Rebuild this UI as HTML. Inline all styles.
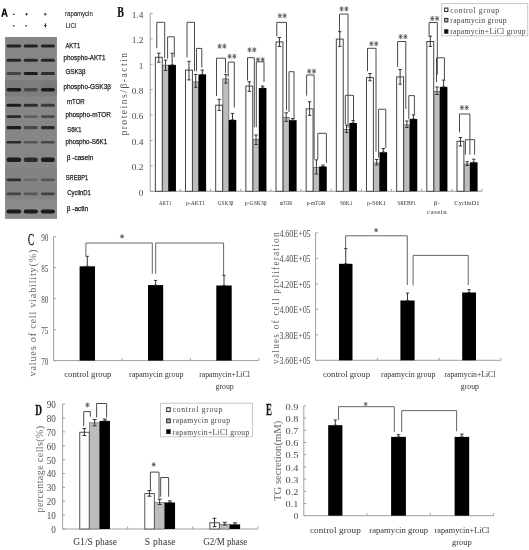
<!DOCTYPE html>
<html><head><meta charset="utf-8"><style>
html,body{margin:0;padding:0;background:#fff;width:529px;height:550px;overflow:hidden}
svg{display:block;filter:grayscale(1) blur(0.3px)}
</style></head><body>
<svg width="529" height="550" viewBox="0 0 529 550" shape-rendering="auto">
<rect width="529" height="550" fill="#fff"/>
<defs><filter id="bl" x="-20%" y="-50%" width="140%" height="200%"><feGaussianBlur stdDeviation="0.9"/></filter><filter id="bl2" x="-20%" y="-50%" width="140%" height="200%"><feGaussianBlur stdDeviation="0.5"/></filter></defs>
<rect x="5.10" y="37.00" width="51.80" height="181.60" fill="#868686"/>
<rect x="5.10" y="80.00" width="51.80" height="16.50" fill="#7d7d7d"/>
<ellipse cx="13.5" cy="86" rx="7.5" ry="4" fill="#7b7b7b" filter="url(#bl)"/>
<ellipse cx="48" cy="85.5" rx="7.5" ry="4.5" fill="#777777" filter="url(#bl)"/>
<rect x="5.10" y="187.00" width="51.80" height="12.00" fill="#7e7e7e"/>
<rect x="5.10" y="167.50" width="51.80" height="32.00" fill="#838383"/>
<rect x="5.10" y="199.50" width="51.80" height="19.10" fill="#8c8c8c"/>
<rect x="6.50" y="44.60" width="14.70" height="3.00" rx="1.50" fill="#222222" filter="url(#bl2)"/>
<rect x="23.70" y="44.60" width="14.20" height="3.00" rx="1.50" fill="#222222" filter="url(#bl2)"/>
<rect x="40.90" y="44.60" width="14.00" height="3.00" rx="1.50" fill="#222222" filter="url(#bl2)"/>
<rect x="6.50" y="58.80" width="14.70" height="3.00" rx="1.50" fill="#262626" filter="url(#bl2)"/>
<rect x="23.70" y="58.80" width="14.20" height="3.00" rx="1.50" fill="#2a2a2a" filter="url(#bl2)"/>
<rect x="40.90" y="58.80" width="14.00" height="3.00" rx="1.50" fill="#262626" filter="url(#bl2)"/>
<rect x="6.50" y="71.90" width="14.70" height="3.00" rx="1.50" fill="#454545" filter="url(#bl2)"/>
<rect x="23.70" y="71.90" width="14.20" height="3.00" rx="1.50" fill="#1a1a1a" filter="url(#bl2)"/>
<rect x="40.90" y="71.90" width="14.00" height="3.00" rx="1.50" fill="#2f2f2f" filter="url(#bl2)"/>
<rect x="6.50" y="88.00" width="14.70" height="3.60" rx="1.80" fill="#1a1a1a" filter="url(#bl2)"/>
<rect x="23.70" y="88.00" width="14.20" height="3.60" rx="1.80" fill="#4a4a4a" filter="url(#bl2)"/>
<rect x="40.90" y="88.00" width="14.00" height="3.60" rx="1.80" fill="#1a1a1a" filter="url(#bl2)"/>
<rect x="6.50" y="103.80" width="14.70" height="3.00" rx="1.50" fill="#1a1a1a" filter="url(#bl2)"/>
<rect x="23.70" y="103.80" width="14.20" height="3.00" rx="1.50" fill="#2f2f2f" filter="url(#bl2)"/>
<rect x="40.90" y="103.80" width="14.00" height="3.00" rx="1.50" fill="#3a3a3a" filter="url(#bl2)"/>
<rect x="6.50" y="115.20" width="14.70" height="2.80" rx="1.40" fill="#2a2a2a" filter="url(#bl2)"/>
<rect x="23.70" y="115.20" width="14.20" height="2.80" rx="1.40" fill="#606060" filter="url(#bl2)"/>
<rect x="40.90" y="115.20" width="14.00" height="2.80" rx="1.40" fill="#4a4a4a" filter="url(#bl2)"/>
<rect x="6.50" y="126.10" width="14.70" height="3.20" rx="1.60" fill="#1a1a1a" filter="url(#bl2)"/>
<rect x="23.70" y="126.10" width="14.20" height="3.20" rx="1.60" fill="#4a4a4a" filter="url(#bl2)"/>
<rect x="40.90" y="126.10" width="14.00" height="3.20" rx="1.60" fill="#2a2a2a" filter="url(#bl2)"/>
<rect x="6.50" y="140.90" width="14.70" height="2.60" rx="1.30" fill="#2a2a2a" filter="url(#bl2)"/>
<rect x="23.70" y="140.90" width="14.20" height="2.60" rx="1.30" fill="#555555" filter="url(#bl2)"/>
<rect x="40.90" y="140.90" width="14.00" height="2.60" rx="1.30" fill="#4a4a4a" filter="url(#bl2)"/>
<rect x="6.50" y="157.50" width="14.70" height="4.60" rx="2.30" fill="#1a1a1a" filter="url(#bl2)"/>
<rect x="23.70" y="157.50" width="14.20" height="4.60" rx="2.30" fill="#2a2a2a" filter="url(#bl2)"/>
<rect x="40.90" y="157.50" width="14.00" height="4.60" rx="2.30" fill="#1a1a1a" filter="url(#bl2)"/>
<rect x="6.50" y="178.40" width="14.70" height="2.80" rx="1.40" fill="#2f2f2f" filter="url(#bl2)"/>
<rect x="23.70" y="178.40" width="14.20" height="2.80" rx="1.40" fill="#6b6b6b" filter="url(#bl2)"/>
<rect x="40.90" y="178.40" width="14.00" height="2.80" rx="1.40" fill="#555555" filter="url(#bl2)"/>
<rect x="6.50" y="192.40" width="14.70" height="2.80" rx="1.40" fill="#454545" filter="url(#bl2)"/>
<rect x="23.70" y="192.40" width="14.20" height="2.80" rx="1.40" fill="#555555" filter="url(#bl2)"/>
<rect x="40.90" y="192.40" width="14.00" height="2.80" rx="1.40" fill="#434343" filter="url(#bl2)"/>
<rect x="6.50" y="209.60" width="14.70" height="4.00" rx="2.00" fill="#1a1a1a" filter="url(#bl2)"/>
<rect x="23.70" y="209.60" width="14.20" height="4.00" rx="2.00" fill="#1a1a1a" filter="url(#bl2)"/>
<rect x="40.90" y="209.60" width="14.00" height="4.00" rx="2.00" fill="#1a1a1a" filter="url(#bl2)"/>
<path d="M1.2,16.7L3.6,8.4L5.4,8.4L7.8,16.7L6.1,16.7L5.6,14.8L3.4,14.8L2.9,16.7ZM3.8,13.3L5.2,13.3L4.5,10.5Z" fill="#111" fill-rule="evenodd"/>
<rect x="12.90" y="13.80" width="1.80" height="1.20" fill="#444"/>
<rect x="25.10" y="13.75" width="2.80" height="0.90" fill="#333"/>
<rect x="26.05" y="12.80" width="0.90" height="2.80" fill="#333"/>
<rect x="43.80" y="13.75" width="2.80" height="0.90" fill="#333"/>
<rect x="44.75" y="12.80" width="0.90" height="2.80" fill="#333"/>
<rect x="12.90" y="25.20" width="1.80" height="1.20" fill="#444"/>
<rect x="25.20" y="25.20" width="1.80" height="1.20" fill="#444"/>
<rect x="44.00" y="25.05" width="2.80" height="0.90" fill="#333"/>
<rect x="44.95" y="24.10" width="0.90" height="2.80" fill="#333"/>
<rect x="44.95" y="23.20" width="0.90" height="4.60" fill="#333"/>
<text x="65.10" y="16.00" font-family="'Liberation Sans', sans-serif" font-size="7.8" fill="#1a1a1a" text-anchor="start" font-weight="normal" textLength="27.70" lengthAdjust="spacingAndGlyphs" stroke="#1a1a1a" stroke-width="0.12">rapamycin</text>
<text x="65.80" y="27.60" font-family="'Liberation Sans', sans-serif" font-size="7.8" fill="#1a1a1a" text-anchor="start" font-weight="normal" textLength="10.30" lengthAdjust="spacingAndGlyphs" stroke="#1a1a1a" stroke-width="0.12">LiCl</text>
<text x="65.40" y="48.00" font-family="'Liberation Sans', sans-serif" font-size="7.8" fill="#1a1a1a" text-anchor="start" font-weight="normal" textLength="14.80" lengthAdjust="spacingAndGlyphs" stroke="#1a1a1a" stroke-width="0.25">AKT1</text>
<text x="63.60" y="60.40" font-family="'Liberation Sans', sans-serif" font-size="7.8" fill="#1a1a1a" text-anchor="start" font-weight="normal" textLength="41.80" lengthAdjust="spacingAndGlyphs" stroke="#1a1a1a" stroke-width="0.25">phospho-AKT1</text>
<text x="65.40" y="73.50" font-family="'Liberation Sans', sans-serif" font-size="7.8" fill="#1a1a1a" text-anchor="start" font-weight="normal" textLength="20.30" lengthAdjust="spacingAndGlyphs" stroke="#1a1a1a" stroke-width="0.25">GSK3β</text>
<text x="63.40" y="88.60" font-family="'Liberation Sans', sans-serif" font-size="7.8" fill="#1a1a1a" text-anchor="start" font-weight="normal" textLength="47.50" lengthAdjust="spacingAndGlyphs" stroke="#1a1a1a" stroke-width="0.25">phospho-GSK3β</text>
<text x="67.00" y="104.00" font-family="'Liberation Sans', sans-serif" font-size="7.8" fill="#1a1a1a" text-anchor="start" font-weight="normal" textLength="17.70" lengthAdjust="spacingAndGlyphs" stroke="#1a1a1a" stroke-width="0.25">mTOR</text>
<text x="65.40" y="116.60" font-family="'Liberation Sans', sans-serif" font-size="7.8" fill="#1a1a1a" text-anchor="start" font-weight="normal" textLength="45.50" lengthAdjust="spacingAndGlyphs" stroke="#1a1a1a" stroke-width="0.25">phospho-mTOR</text>
<text x="67.30" y="132.20" font-family="'Liberation Sans', sans-serif" font-size="7.8" fill="#1a1a1a" text-anchor="start" font-weight="normal" textLength="14.10" lengthAdjust="spacingAndGlyphs" stroke="#1a1a1a" stroke-width="0.25">S6K1</text>
<text x="65.40" y="144.20" font-family="'Liberation Sans', sans-serif" font-size="7.8" fill="#1a1a1a" text-anchor="start" font-weight="normal" textLength="41.80" lengthAdjust="spacingAndGlyphs" stroke="#1a1a1a" stroke-width="0.25">phospho-S6K1</text>
<text x="66.70" y="159.80" font-family="'Liberation Sans', sans-serif" font-size="7.8" fill="#1a1a1a" text-anchor="start" font-weight="normal" textLength="26.60" lengthAdjust="spacingAndGlyphs" stroke="#1a1a1a" stroke-width="0.25">β -casein</text>
<text x="65.80" y="180.00" font-family="'Liberation Sans', sans-serif" font-size="7.8" fill="#1a1a1a" text-anchor="start" font-weight="normal" textLength="22.40" lengthAdjust="spacingAndGlyphs" stroke="#1a1a1a" stroke-width="0.25">SREBP1</text>
<text x="67.30" y="195.00" font-family="'Liberation Sans', sans-serif" font-size="7.8" fill="#1a1a1a" text-anchor="start" font-weight="normal" textLength="23.60" lengthAdjust="spacingAndGlyphs" stroke="#1a1a1a" stroke-width="0.25">CyclinD1</text>
<text x="66.70" y="210.80" font-family="'Liberation Sans', sans-serif" font-size="7.8" fill="#1a1a1a" text-anchor="start" font-weight="normal" textLength="21.50" lengthAdjust="spacingAndGlyphs" stroke="#1a1a1a" stroke-width="0.25">β -actin</text>
<line x1="150.20" y1="13.40" x2="150.20" y2="191.30" stroke="#a0a0a0" stroke-width="1"/>
<line x1="150.20" y1="191.30" x2="482.00" y2="191.30" stroke="#a0a0a0" stroke-width="1"/>
<line x1="150.20" y1="191.30" x2="152.70" y2="191.30" stroke="#a0a0a0" stroke-width="1"/>
<text x="143.40" y="195.60" font-family="'Liberation Serif', serif" font-size="9.2" fill="#484848" text-anchor="end" font-weight="normal">0</text>
<line x1="150.20" y1="165.89" x2="152.70" y2="165.89" stroke="#a0a0a0" stroke-width="1"/>
<text x="143.40" y="170.19" font-family="'Liberation Serif', serif" font-size="9.2" fill="#484848" text-anchor="end" font-weight="normal" textLength="11.70" lengthAdjust="spacingAndGlyphs">0.2</text>
<line x1="150.20" y1="140.48" x2="152.70" y2="140.48" stroke="#a0a0a0" stroke-width="1"/>
<text x="143.40" y="144.78" font-family="'Liberation Serif', serif" font-size="9.2" fill="#484848" text-anchor="end" font-weight="normal" textLength="11.70" lengthAdjust="spacingAndGlyphs">0.4</text>
<line x1="150.20" y1="115.07" x2="152.70" y2="115.07" stroke="#a0a0a0" stroke-width="1"/>
<text x="143.40" y="119.37" font-family="'Liberation Serif', serif" font-size="9.2" fill="#484848" text-anchor="end" font-weight="normal" textLength="11.70" lengthAdjust="spacingAndGlyphs">0.6</text>
<line x1="150.20" y1="89.66" x2="152.70" y2="89.66" stroke="#a0a0a0" stroke-width="1"/>
<text x="143.40" y="93.96" font-family="'Liberation Serif', serif" font-size="9.2" fill="#484848" text-anchor="end" font-weight="normal" textLength="11.70" lengthAdjust="spacingAndGlyphs">0.8</text>
<line x1="150.20" y1="64.25" x2="152.70" y2="64.25" stroke="#a0a0a0" stroke-width="1"/>
<text x="143.40" y="68.55" font-family="'Liberation Serif', serif" font-size="9.2" fill="#484848" text-anchor="end" font-weight="normal">1</text>
<line x1="150.20" y1="38.84" x2="152.70" y2="38.84" stroke="#a0a0a0" stroke-width="1"/>
<text x="143.40" y="43.14" font-family="'Liberation Serif', serif" font-size="9.2" fill="#484848" text-anchor="end" font-weight="normal" textLength="11.70" lengthAdjust="spacingAndGlyphs">1.2</text>
<line x1="150.20" y1="13.43" x2="152.70" y2="13.43" stroke="#a0a0a0" stroke-width="1"/>
<text x="143.40" y="17.73" font-family="'Liberation Serif', serif" font-size="9.2" fill="#484848" text-anchor="end" font-weight="normal" textLength="11.70" lengthAdjust="spacingAndGlyphs">1.4</text>
<line x1="180.36" y1="191.30" x2="180.36" y2="188.80" stroke="#a0a0a0" stroke-width="1"/>
<line x1="210.53" y1="191.30" x2="210.53" y2="188.80" stroke="#a0a0a0" stroke-width="1"/>
<line x1="240.69" y1="191.30" x2="240.69" y2="188.80" stroke="#a0a0a0" stroke-width="1"/>
<line x1="270.85" y1="191.30" x2="270.85" y2="188.80" stroke="#a0a0a0" stroke-width="1"/>
<line x1="301.02" y1="191.30" x2="301.02" y2="188.80" stroke="#a0a0a0" stroke-width="1"/>
<line x1="331.18" y1="191.30" x2="331.18" y2="188.80" stroke="#a0a0a0" stroke-width="1"/>
<line x1="361.35" y1="191.30" x2="361.35" y2="188.80" stroke="#a0a0a0" stroke-width="1"/>
<line x1="391.51" y1="191.30" x2="391.51" y2="188.80" stroke="#a0a0a0" stroke-width="1"/>
<line x1="421.67" y1="191.30" x2="421.67" y2="188.80" stroke="#a0a0a0" stroke-width="1"/>
<line x1="451.84" y1="191.30" x2="451.84" y2="188.80" stroke="#a0a0a0" stroke-width="1"/>
<line x1="482.00" y1="191.30" x2="482.00" y2="188.80" stroke="#a0a0a0" stroke-width="1"/>
<text x="117.30" y="16.70" font-family="'Liberation Serif', serif" font-size="15" fill="#111" text-anchor="start" font-weight="bold" textLength="6.70" lengthAdjust="spacingAndGlyphs" stroke="#111" stroke-width="0.2">B</text>
<text x="127.10" y="94.25" font-family="'Liberation Serif', serif" font-size="9.6" fill="#555" text-anchor="middle" font-weight="normal" textLength="82.70" lengthAdjust="spacing" transform="rotate(-90 127.10 94.25)">proteins/β-actin</text>
<rect x="162.45" y="65.20" width="6.00" height="126.10" fill="#bdbdbd" stroke="#666" stroke-width="0.8"/>
<rect x="155.35" y="57.30" width="6.90" height="134.00" fill="#fff" stroke="#444" stroke-width="1"/>
<rect x="168.35" y="64.90" width="7.60" height="126.40" fill="#000"/>
<line x1="158.80" y1="53.20" x2="158.80" y2="62.20" stroke="#333" stroke-width="1"/>
<line x1="157.10" y1="53.20" x2="160.50" y2="53.20" stroke="#333" stroke-width="1"/>
<line x1="157.10" y1="62.20" x2="160.50" y2="62.20" stroke="#333" stroke-width="1"/>
<line x1="165.55" y1="60.10" x2="165.55" y2="70.40" stroke="#333" stroke-width="1"/>
<line x1="163.85" y1="60.10" x2="167.25" y2="60.10" stroke="#333" stroke-width="1"/>
<line x1="163.85" y1="70.40" x2="167.25" y2="70.40" stroke="#333" stroke-width="1"/>
<line x1="172.15" y1="53.20" x2="172.15" y2="64.90" stroke="#333" stroke-width="1"/>
<line x1="170.45" y1="53.20" x2="173.85" y2="53.20" stroke="#333" stroke-width="1"/>
<line x1="170.45" y1="64.90" x2="173.85" y2="64.90" stroke="#333" stroke-width="1"/>
<rect x="192.61" y="81.90" width="6.00" height="109.40" fill="#bdbdbd" stroke="#666" stroke-width="0.8"/>
<rect x="185.51" y="70.10" width="6.90" height="121.20" fill="#fff" stroke="#444" stroke-width="1"/>
<rect x="198.51" y="74.40" width="7.60" height="116.90" fill="#000"/>
<line x1="188.96" y1="61.30" x2="188.96" y2="79.90" stroke="#333" stroke-width="1"/>
<line x1="187.26" y1="61.30" x2="190.66" y2="61.30" stroke="#333" stroke-width="1"/>
<line x1="187.26" y1="79.90" x2="190.66" y2="79.90" stroke="#333" stroke-width="1"/>
<line x1="195.71" y1="74.40" x2="195.71" y2="87.30" stroke="#333" stroke-width="1"/>
<line x1="194.01" y1="74.40" x2="197.41" y2="74.40" stroke="#333" stroke-width="1"/>
<line x1="194.01" y1="87.30" x2="197.41" y2="87.30" stroke="#333" stroke-width="1"/>
<line x1="202.31" y1="70.10" x2="202.31" y2="74.40" stroke="#333" stroke-width="1"/>
<line x1="200.61" y1="70.10" x2="204.01" y2="70.10" stroke="#333" stroke-width="1"/>
<line x1="200.61" y1="74.40" x2="204.01" y2="74.40" stroke="#333" stroke-width="1"/>
<rect x="222.78" y="78.90" width="6.00" height="112.40" fill="#bdbdbd" stroke="#666" stroke-width="0.8"/>
<rect x="215.68" y="105.20" width="6.90" height="86.10" fill="#fff" stroke="#444" stroke-width="1"/>
<rect x="228.68" y="119.90" width="7.60" height="71.40" fill="#000"/>
<line x1="219.13" y1="99.30" x2="219.13" y2="110.50" stroke="#333" stroke-width="1"/>
<line x1="217.43" y1="99.30" x2="220.83" y2="99.30" stroke="#333" stroke-width="1"/>
<line x1="217.43" y1="110.50" x2="220.83" y2="110.50" stroke="#333" stroke-width="1"/>
<line x1="225.88" y1="74.60" x2="225.88" y2="83.00" stroke="#333" stroke-width="1"/>
<line x1="224.18" y1="74.60" x2="227.58" y2="74.60" stroke="#333" stroke-width="1"/>
<line x1="224.18" y1="83.00" x2="227.58" y2="83.00" stroke="#333" stroke-width="1"/>
<line x1="232.48" y1="113.40" x2="232.48" y2="119.90" stroke="#333" stroke-width="1"/>
<line x1="230.78" y1="113.40" x2="234.18" y2="113.40" stroke="#333" stroke-width="1"/>
<line x1="230.78" y1="119.90" x2="234.18" y2="119.90" stroke="#333" stroke-width="1"/>
<rect x="252.94" y="139.50" width="6.00" height="51.80" fill="#bdbdbd" stroke="#666" stroke-width="0.8"/>
<rect x="245.84" y="86.10" width="6.90" height="105.20" fill="#fff" stroke="#444" stroke-width="1"/>
<rect x="258.84" y="88.00" width="7.60" height="103.30" fill="#000"/>
<line x1="249.29" y1="81.80" x2="249.29" y2="91.30" stroke="#333" stroke-width="1"/>
<line x1="247.59" y1="81.80" x2="250.99" y2="81.80" stroke="#333" stroke-width="1"/>
<line x1="247.59" y1="91.30" x2="250.99" y2="91.30" stroke="#333" stroke-width="1"/>
<line x1="256.04" y1="135.00" x2="256.04" y2="144.50" stroke="#333" stroke-width="1"/>
<line x1="254.34" y1="135.00" x2="257.74" y2="135.00" stroke="#333" stroke-width="1"/>
<line x1="254.34" y1="144.50" x2="257.74" y2="144.50" stroke="#333" stroke-width="1"/>
<line x1="262.64" y1="86.10" x2="262.64" y2="88.00" stroke="#333" stroke-width="1"/>
<line x1="260.94" y1="86.10" x2="264.34" y2="86.10" stroke="#333" stroke-width="1"/>
<line x1="260.94" y1="88.00" x2="264.34" y2="88.00" stroke="#333" stroke-width="1"/>
<rect x="283.10" y="117.50" width="6.00" height="73.80" fill="#bdbdbd" stroke="#666" stroke-width="0.8"/>
<rect x="276.00" y="42.00" width="6.90" height="149.30" fill="#fff" stroke="#444" stroke-width="1"/>
<rect x="289.00" y="120.20" width="7.60" height="71.10" fill="#000"/>
<line x1="279.45" y1="37.50" x2="279.45" y2="46.50" stroke="#333" stroke-width="1"/>
<line x1="277.75" y1="37.50" x2="281.15" y2="37.50" stroke="#333" stroke-width="1"/>
<line x1="277.75" y1="46.50" x2="281.15" y2="46.50" stroke="#333" stroke-width="1"/>
<line x1="286.20" y1="112.80" x2="286.20" y2="121.40" stroke="#333" stroke-width="1"/>
<line x1="284.50" y1="112.80" x2="287.90" y2="112.80" stroke="#333" stroke-width="1"/>
<line x1="284.50" y1="121.40" x2="287.90" y2="121.40" stroke="#333" stroke-width="1"/>
<line x1="292.80" y1="118.50" x2="292.80" y2="120.20" stroke="#333" stroke-width="1"/>
<line x1="291.10" y1="118.50" x2="294.50" y2="118.50" stroke="#333" stroke-width="1"/>
<line x1="291.10" y1="120.20" x2="294.50" y2="120.20" stroke="#333" stroke-width="1"/>
<rect x="313.27" y="167.50" width="6.00" height="23.80" fill="#bdbdbd" stroke="#666" stroke-width="0.8"/>
<rect x="306.17" y="108.90" width="6.90" height="82.40" fill="#fff" stroke="#444" stroke-width="1"/>
<rect x="319.17" y="166.50" width="7.60" height="24.80" fill="#000"/>
<line x1="309.62" y1="101.80" x2="309.62" y2="115.30" stroke="#333" stroke-width="1"/>
<line x1="307.92" y1="101.80" x2="311.32" y2="101.80" stroke="#333" stroke-width="1"/>
<line x1="307.92" y1="115.30" x2="311.32" y2="115.30" stroke="#333" stroke-width="1"/>
<line x1="316.37" y1="159.80" x2="316.37" y2="174.00" stroke="#333" stroke-width="1"/>
<line x1="314.67" y1="159.80" x2="318.07" y2="159.80" stroke="#333" stroke-width="1"/>
<line x1="314.67" y1="174.00" x2="318.07" y2="174.00" stroke="#333" stroke-width="1"/>
<line x1="322.97" y1="165.00" x2="322.97" y2="166.50" stroke="#333" stroke-width="1"/>
<line x1="321.27" y1="165.00" x2="324.67" y2="165.00" stroke="#333" stroke-width="1"/>
<line x1="321.27" y1="166.50" x2="324.67" y2="166.50" stroke="#333" stroke-width="1"/>
<rect x="343.43" y="129.40" width="6.00" height="61.90" fill="#bdbdbd" stroke="#666" stroke-width="0.8"/>
<rect x="336.33" y="39.10" width="6.90" height="152.20" fill="#fff" stroke="#444" stroke-width="1"/>
<rect x="349.33" y="123.00" width="7.60" height="68.30" fill="#000"/>
<line x1="339.78" y1="31.70" x2="339.78" y2="46.40" stroke="#333" stroke-width="1"/>
<line x1="338.08" y1="31.70" x2="341.48" y2="31.70" stroke="#333" stroke-width="1"/>
<line x1="338.08" y1="46.40" x2="341.48" y2="46.40" stroke="#333" stroke-width="1"/>
<line x1="346.53" y1="125.00" x2="346.53" y2="132.50" stroke="#333" stroke-width="1"/>
<line x1="344.83" y1="125.00" x2="348.23" y2="125.00" stroke="#333" stroke-width="1"/>
<line x1="344.83" y1="132.50" x2="348.23" y2="132.50" stroke="#333" stroke-width="1"/>
<line x1="353.13" y1="120.60" x2="353.13" y2="123.00" stroke="#333" stroke-width="1"/>
<line x1="351.43" y1="120.60" x2="354.83" y2="120.60" stroke="#333" stroke-width="1"/>
<line x1="351.43" y1="123.00" x2="354.83" y2="123.00" stroke="#333" stroke-width="1"/>
<rect x="373.60" y="162.90" width="6.00" height="28.40" fill="#bdbdbd" stroke="#666" stroke-width="0.8"/>
<rect x="366.50" y="77.60" width="6.90" height="113.70" fill="#fff" stroke="#444" stroke-width="1"/>
<rect x="379.50" y="152.20" width="7.60" height="39.10" fill="#000"/>
<line x1="369.95" y1="73.50" x2="369.95" y2="80.80" stroke="#333" stroke-width="1"/>
<line x1="368.25" y1="73.50" x2="371.65" y2="73.50" stroke="#333" stroke-width="1"/>
<line x1="368.25" y1="80.80" x2="371.65" y2="80.80" stroke="#333" stroke-width="1"/>
<line x1="376.70" y1="159.50" x2="376.70" y2="165.00" stroke="#333" stroke-width="1"/>
<line x1="375.00" y1="159.50" x2="378.40" y2="159.50" stroke="#333" stroke-width="1"/>
<line x1="375.00" y1="165.00" x2="378.40" y2="165.00" stroke="#333" stroke-width="1"/>
<line x1="383.30" y1="148.50" x2="383.30" y2="152.20" stroke="#333" stroke-width="1"/>
<line x1="381.60" y1="148.50" x2="385.00" y2="148.50" stroke="#333" stroke-width="1"/>
<line x1="381.60" y1="152.20" x2="385.00" y2="152.20" stroke="#333" stroke-width="1"/>
<rect x="403.76" y="124.90" width="6.00" height="66.40" fill="#bdbdbd" stroke="#666" stroke-width="0.8"/>
<rect x="396.66" y="76.90" width="6.90" height="114.40" fill="#fff" stroke="#444" stroke-width="1"/>
<rect x="409.66" y="119.00" width="7.60" height="72.30" fill="#000"/>
<line x1="400.11" y1="69.50" x2="400.11" y2="84.20" stroke="#333" stroke-width="1"/>
<line x1="398.41" y1="69.50" x2="401.81" y2="69.50" stroke="#333" stroke-width="1"/>
<line x1="398.41" y1="84.20" x2="401.81" y2="84.20" stroke="#333" stroke-width="1"/>
<line x1="406.86" y1="121.00" x2="406.86" y2="127.50" stroke="#333" stroke-width="1"/>
<line x1="405.16" y1="121.00" x2="408.56" y2="121.00" stroke="#333" stroke-width="1"/>
<line x1="405.16" y1="127.50" x2="408.56" y2="127.50" stroke="#333" stroke-width="1"/>
<line x1="413.46" y1="114.90" x2="413.46" y2="119.00" stroke="#333" stroke-width="1"/>
<line x1="411.76" y1="114.90" x2="415.16" y2="114.90" stroke="#333" stroke-width="1"/>
<line x1="411.76" y1="119.00" x2="415.16" y2="119.00" stroke="#333" stroke-width="1"/>
<rect x="433.92" y="91.40" width="6.00" height="99.90" fill="#bdbdbd" stroke="#666" stroke-width="0.8"/>
<rect x="426.82" y="41.50" width="6.90" height="149.80" fill="#fff" stroke="#444" stroke-width="1"/>
<rect x="439.82" y="86.90" width="7.60" height="104.40" fill="#000"/>
<line x1="430.27" y1="36.20" x2="430.27" y2="46.40" stroke="#333" stroke-width="1"/>
<line x1="428.57" y1="36.20" x2="431.97" y2="36.20" stroke="#333" stroke-width="1"/>
<line x1="428.57" y1="46.40" x2="431.97" y2="46.40" stroke="#333" stroke-width="1"/>
<line x1="437.02" y1="87.00" x2="437.02" y2="94.50" stroke="#333" stroke-width="1"/>
<line x1="435.32" y1="87.00" x2="438.72" y2="87.00" stroke="#333" stroke-width="1"/>
<line x1="435.32" y1="94.50" x2="438.72" y2="94.50" stroke="#333" stroke-width="1"/>
<line x1="443.62" y1="80.10" x2="443.62" y2="86.90" stroke="#333" stroke-width="1"/>
<line x1="441.92" y1="80.10" x2="445.32" y2="80.10" stroke="#333" stroke-width="1"/>
<line x1="441.92" y1="86.90" x2="445.32" y2="86.90" stroke="#333" stroke-width="1"/>
<rect x="464.09" y="164.00" width="6.00" height="27.30" fill="#bdbdbd" stroke="#666" stroke-width="0.8"/>
<rect x="456.99" y="141.30" width="6.90" height="50.00" fill="#fff" stroke="#444" stroke-width="1"/>
<rect x="469.99" y="162.30" width="7.60" height="29.00" fill="#000"/>
<line x1="460.44" y1="137.50" x2="460.44" y2="146.00" stroke="#333" stroke-width="1"/>
<line x1="458.74" y1="137.50" x2="462.14" y2="137.50" stroke="#333" stroke-width="1"/>
<line x1="458.74" y1="146.00" x2="462.14" y2="146.00" stroke="#333" stroke-width="1"/>
<line x1="467.19" y1="161.70" x2="467.19" y2="165.50" stroke="#333" stroke-width="1"/>
<line x1="465.49" y1="161.70" x2="468.89" y2="161.70" stroke="#333" stroke-width="1"/>
<line x1="465.49" y1="165.50" x2="468.89" y2="165.50" stroke="#333" stroke-width="1"/>
<line x1="473.79" y1="159.20" x2="473.79" y2="162.30" stroke="#333" stroke-width="1"/>
<line x1="472.09" y1="159.20" x2="475.49" y2="159.20" stroke="#333" stroke-width="1"/>
<line x1="472.09" y1="162.30" x2="475.49" y2="162.30" stroke="#333" stroke-width="1"/>
<polyline points="156.80,48.10 156.80,22.30 164.70,22.30 164.70,57.90" fill="none" stroke="#4a4a4a" stroke-width="1"/>
<polyline points="167.60,58.50 167.60,36.80 174.30,36.80 174.30,57.30" fill="none" stroke="#4a4a4a" stroke-width="1"/>
<polyline points="187.00,57.50 187.00,22.30 194.50,22.30 194.50,71.30" fill="none" stroke="#4a4a4a" stroke-width="1"/>
<polyline points="196.50,71.30 196.50,48.40 201.80,48.40 201.80,67.60" fill="none" stroke="#4a4a4a" stroke-width="1"/>
<polyline points="216.50,95.90 216.50,58.20 225.50,58.20 225.50,73.20" fill="none" stroke="#4a4a4a" stroke-width="1"/>
<polyline points="228.20,76.90 228.20,62.10 234.30,62.10 234.30,107.60" fill="none" stroke="#4a4a4a" stroke-width="1"/>
<polyline points="247.50,80.50 247.50,57.70 254.30,57.70 254.30,127.30" fill="none" stroke="#4a4a4a" stroke-width="1"/>
<polyline points="256.30,127.30 256.30,61.80 264.00,61.80 264.00,82.00" fill="none" stroke="#4a4a4a" stroke-width="1"/>
<polyline points="276.80,36.50 276.80,22.40 286.50,22.40 286.50,110.40" fill="none" stroke="#4a4a4a" stroke-width="1"/>
<polyline points="289.00,112.00 289.00,71.70 294.00,71.70 294.00,119.00" fill="none" stroke="#4a4a4a" stroke-width="1"/>
<polyline points="306.60,95.60 306.60,75.00 314.10,75.00 314.10,159.10" fill="none" stroke="#4a4a4a" stroke-width="1"/>
<polyline points="317.80,159.00 317.80,133.30 326.40,133.30 326.40,162.80" fill="none" stroke="#4a4a4a" stroke-width="1"/>
<polyline points="339.50,31.30 339.50,14.10 348.00,14.10 348.00,127.60" fill="none" stroke="#4a4a4a" stroke-width="1"/>
<polyline points="345.30,124.00 345.30,95.30 353.50,95.30 353.50,120.30" fill="none" stroke="#4a4a4a" stroke-width="1"/>
<polyline points="367.50,71.20 367.50,48.30 376.00,48.30 376.00,151.60" fill="none" stroke="#4a4a4a" stroke-width="1"/>
<polyline points="378.60,157.50 378.60,109.20 385.80,109.20 385.80,147.90" fill="none" stroke="#4a4a4a" stroke-width="1"/>
<polyline points="397.60,67.00 397.60,41.50 405.80,41.50 405.80,109.00" fill="none" stroke="#4a4a4a" stroke-width="1"/>
<polyline points="408.80,119.20 408.80,95.60 414.40,95.60 414.40,114.70" fill="none" stroke="#4a4a4a" stroke-width="1"/>
<polyline points="429.10,36.20 429.10,22.50 437.30,22.50 437.30,74.60" fill="none" stroke="#4a4a4a" stroke-width="1"/>
<polyline points="436.50,82.00 436.50,57.80 444.40,57.80 444.40,80.10" fill="none" stroke="#4a4a4a" stroke-width="1"/>
<polyline points="459.50,132.40 459.50,114.00 469.90,114.00 469.90,154.70" fill="none" stroke="#4a4a4a" stroke-width="1"/>
<polyline points="465.40,154.70 465.40,139.70 474.60,139.70 474.60,154.70" fill="none" stroke="#4a4a4a" stroke-width="1"/>
<path d="M219.60,43.70V48.70M217.60,46.20H221.60M217.90,44.20L221.30,48.20M217.90,48.20L221.30,44.20" stroke="#555" stroke-width="0.8" fill="none"/>
<path d="M224.40,43.70V48.70M222.40,46.20H226.40M222.70,44.20L226.10,48.20M222.70,48.20L226.10,44.20" stroke="#555" stroke-width="0.8" fill="none"/>
<path d="M229.60,53.80V58.80M227.60,56.30H231.60M227.90,54.30L231.30,58.30M227.90,58.30L231.30,54.30" stroke="#555" stroke-width="0.8" fill="none"/>
<path d="M234.40,53.80V58.80M232.40,56.30H236.40M232.70,54.30L236.10,58.30M232.70,58.30L236.10,54.30" stroke="#555" stroke-width="0.8" fill="none"/>
<path d="M249.50,47.30V52.30M247.50,49.80H251.50M247.80,47.80L251.20,51.80M247.80,51.80L251.20,47.80" stroke="#555" stroke-width="0.8" fill="none"/>
<path d="M254.30,47.30V52.30M252.30,49.80H256.30M252.60,47.80L256.00,51.80M252.60,51.80L256.00,47.80" stroke="#555" stroke-width="0.8" fill="none"/>
<path d="M257.90,57.10V62.10M255.90,59.60H259.90M256.20,57.60L259.60,61.60M256.20,61.60L259.60,57.60" stroke="#555" stroke-width="0.8" fill="none"/>
<path d="M262.70,57.10V62.10M260.70,59.60H264.70M261.00,57.60L264.40,61.60M261.00,61.60L264.40,57.60" stroke="#555" stroke-width="0.8" fill="none"/>
<path d="M279.90,13.20V18.20M277.90,15.70H281.90M278.20,13.70L281.60,17.70M278.20,17.70L281.60,13.70" stroke="#555" stroke-width="0.8" fill="none"/>
<path d="M284.70,13.20V18.20M282.70,15.70H286.70M283.00,13.70L286.40,17.70M283.00,17.70L286.40,13.70" stroke="#555" stroke-width="0.8" fill="none"/>
<path d="M309.20,68.80V73.80M307.20,71.30H311.20M307.50,69.30L310.90,73.30M307.50,73.30L310.90,69.30" stroke="#555" stroke-width="0.8" fill="none"/>
<path d="M314.00,68.80V73.80M312.00,71.30H316.00M312.30,69.30L315.70,73.30M312.30,73.30L315.70,69.30" stroke="#555" stroke-width="0.8" fill="none"/>
<path d="M341.60,6.40V11.40M339.60,8.90H343.60M339.90,6.90L343.30,10.90M339.90,10.90L343.30,6.90" stroke="#555" stroke-width="0.8" fill="none"/>
<path d="M346.40,6.40V11.40M344.40,8.90H348.40M344.70,6.90L348.10,10.90M344.70,10.90L348.10,6.90" stroke="#555" stroke-width="0.8" fill="none"/>
<path d="M371.40,41.20V46.20M369.40,43.70H373.40M369.70,41.70L373.10,45.70M369.70,45.70L373.10,41.70" stroke="#555" stroke-width="0.8" fill="none"/>
<path d="M376.20,41.20V46.20M374.20,43.70H378.20M374.50,41.70L377.90,45.70M374.50,45.70L377.90,41.70" stroke="#555" stroke-width="0.8" fill="none"/>
<path d="M400.60,34.20V39.20M398.60,36.70H402.60M398.90,34.70L402.30,38.70M398.90,38.70L402.30,34.70" stroke="#555" stroke-width="0.8" fill="none"/>
<path d="M405.40,34.20V39.20M403.40,36.70H407.40M403.70,34.70L407.10,38.70M403.70,38.70L407.10,34.70" stroke="#555" stroke-width="0.8" fill="none"/>
<path d="M432.30,16.00V21.00M430.30,18.50H434.30M430.60,16.50L434.00,20.50M430.60,20.50L434.00,16.50" stroke="#555" stroke-width="0.8" fill="none"/>
<path d="M437.10,16.00V21.00M435.10,18.50H439.10M435.40,16.50L438.80,20.50M435.40,20.50L438.80,16.50" stroke="#555" stroke-width="0.8" fill="none"/>
<path d="M461.90,105.10V110.10M459.90,107.60H463.90M460.20,105.60L463.60,109.60M460.20,109.60L463.60,105.60" stroke="#555" stroke-width="0.8" fill="none"/>
<path d="M466.70,105.10V110.10M464.70,107.60H468.70M465.00,105.60L468.40,109.60M465.00,109.60L468.40,105.60" stroke="#555" stroke-width="0.8" fill="none"/>
<text x="165.28" y="205.30" font-family="'Liberation Serif', serif" font-size="6.9" fill="#333" text-anchor="middle" font-weight="normal" textLength="12.40" lengthAdjust="spacingAndGlyphs">AKT1</text>
<text x="195.45" y="205.30" font-family="'Liberation Serif', serif" font-size="6.9" fill="#333" text-anchor="middle" font-weight="normal" textLength="18.80" lengthAdjust="spacingAndGlyphs">p-AKT1</text>
<text x="225.61" y="205.30" font-family="'Liberation Serif', serif" font-size="6.9" fill="#333" text-anchor="middle" font-weight="normal" textLength="15.60" lengthAdjust="spacingAndGlyphs">GSK3β</text>
<text x="255.77" y="205.30" font-family="'Liberation Serif', serif" font-size="6.9" fill="#333" text-anchor="middle" font-weight="normal" textLength="22.00" lengthAdjust="spacingAndGlyphs">p-GSK3β</text>
<text x="285.94" y="205.30" font-family="'Liberation Serif', serif" font-size="6.9" fill="#333" text-anchor="middle" font-weight="normal" textLength="12.40" lengthAdjust="spacingAndGlyphs">mTOR</text>
<text x="316.10" y="205.30" font-family="'Liberation Serif', serif" font-size="6.9" fill="#333" text-anchor="middle" font-weight="normal" textLength="18.80" lengthAdjust="spacingAndGlyphs">p-mTOR</text>
<text x="346.26" y="205.30" font-family="'Liberation Serif', serif" font-size="6.9" fill="#333" text-anchor="middle" font-weight="normal" textLength="12.40" lengthAdjust="spacingAndGlyphs">S6K1</text>
<text x="376.43" y="205.30" font-family="'Liberation Serif', serif" font-size="6.9" fill="#333" text-anchor="middle" font-weight="normal" textLength="18.80" lengthAdjust="spacingAndGlyphs">p-S6K1</text>
<text x="406.59" y="205.30" font-family="'Liberation Serif', serif" font-size="6.9" fill="#333" text-anchor="middle" font-weight="normal" textLength="18.80" lengthAdjust="spacingAndGlyphs">SREBP1</text>
<text x="436.75" y="205.30" font-family="'Liberation Serif', serif" font-size="6.9" fill="#333" text-anchor="middle" font-weight="normal" textLength="6.00" lengthAdjust="spacing">β-</text>
<text x="466.92" y="205.30" font-family="'Liberation Serif', serif" font-size="6.9" fill="#333" text-anchor="middle" font-weight="normal" textLength="25.20" lengthAdjust="spacingAndGlyphs">CyclinD1</text>
<text x="436.75" y="213.80" font-family="'Liberation Serif', serif" font-size="6.9" fill="#333" text-anchor="middle" font-weight="normal" textLength="19.80" lengthAdjust="spacing">casein</text>
<rect x="441.70" y="3.60" width="86.00" height="32.30" fill="#fff" stroke="#c8c8c8" stroke-width="1"/>
<rect x="444.70" y="8.05" width="3.20" height="3.50" fill="#fff" stroke="#222" stroke-width="1.0"/>
<text x="450.30" y="12.50" font-family="'Liberation Serif', serif" font-size="7.6" fill="#444" text-anchor="start" font-weight="normal" textLength="48.81" lengthAdjust="spacing">control group</text>
<rect x="444.70" y="18.45" width="3.20" height="3.50" fill="#bdbdbd" stroke="#222" stroke-width="1.0"/>
<text x="450.30" y="23.20" font-family="'Liberation Serif', serif" font-size="7.6" fill="#444" text-anchor="start" font-weight="normal" textLength="56.35" lengthAdjust="spacing">rapamycin group</text>
<rect x="444.70" y="29.75" width="3.20" height="3.50" fill="#000" stroke="#222" stroke-width="1.0"/>
<text x="450.30" y="33.90" font-family="'Liberation Serif', serif" font-size="7.6" fill="#444" text-anchor="start" font-weight="normal" textLength="75.20" lengthAdjust="spacing">rapamycin+LiCl group</text>
<line x1="53.60" y1="236.70" x2="53.60" y2="360.60" stroke="#a0a0a0" stroke-width="1"/>
<line x1="53.60" y1="360.60" x2="258.80" y2="360.60" stroke="#a0a0a0" stroke-width="1"/>
<line x1="53.60" y1="236.70" x2="56.10" y2="236.70" stroke="#a0a0a0" stroke-width="1"/>
<text x="48.40" y="240.50" font-family="'Liberation Serif', serif" font-size="9.4" fill="#484848" text-anchor="end" font-weight="normal" textLength="7.10" lengthAdjust="spacingAndGlyphs">90</text>
<line x1="53.60" y1="267.70" x2="56.10" y2="267.70" stroke="#a0a0a0" stroke-width="1"/>
<text x="48.40" y="271.50" font-family="'Liberation Serif', serif" font-size="9.4" fill="#484848" text-anchor="end" font-weight="normal" textLength="7.10" lengthAdjust="spacingAndGlyphs">85</text>
<line x1="53.60" y1="298.70" x2="56.10" y2="298.70" stroke="#a0a0a0" stroke-width="1"/>
<text x="48.40" y="302.50" font-family="'Liberation Serif', serif" font-size="9.4" fill="#484848" text-anchor="end" font-weight="normal" textLength="7.10" lengthAdjust="spacingAndGlyphs">80</text>
<line x1="53.60" y1="329.70" x2="56.10" y2="329.70" stroke="#a0a0a0" stroke-width="1"/>
<text x="48.40" y="333.50" font-family="'Liberation Serif', serif" font-size="9.4" fill="#484848" text-anchor="end" font-weight="normal" textLength="7.10" lengthAdjust="spacingAndGlyphs">75</text>
<line x1="53.60" y1="360.70" x2="56.10" y2="360.70" stroke="#a0a0a0" stroke-width="1"/>
<text x="48.40" y="364.50" font-family="'Liberation Serif', serif" font-size="9.4" fill="#484848" text-anchor="end" font-weight="normal" textLength="7.10" lengthAdjust="spacingAndGlyphs">70</text>
<line x1="122.00" y1="360.60" x2="122.00" y2="358.10" stroke="#a0a0a0" stroke-width="1"/>
<line x1="190.40" y1="360.60" x2="190.40" y2="358.10" stroke="#a0a0a0" stroke-width="1"/>
<line x1="258.80" y1="360.60" x2="258.80" y2="358.10" stroke="#a0a0a0" stroke-width="1"/>
<text x="87.80" y="377.00" font-family="'Liberation Serif', serif" font-size="9.0" fill="#333" text-anchor="middle" font-weight="normal" textLength="47.19" lengthAdjust="spacingAndGlyphs">control group</text>
<text x="156.20" y="377.00" font-family="'Liberation Serif', serif" font-size="9.0" fill="#333" text-anchor="middle" font-weight="normal" textLength="54.45" lengthAdjust="spacingAndGlyphs">rapamycin group</text>
<text x="224.60" y="377.00" font-family="'Liberation Serif', serif" font-size="9.0" fill="#333" text-anchor="middle" font-weight="normal" textLength="50.82" lengthAdjust="spacingAndGlyphs">rapamycin+LiCl</text>
<text x="224.60" y="388.60" font-family="'Liberation Serif', serif" font-size="9.0" fill="#333" text-anchor="middle" font-weight="normal" textLength="18.15" lengthAdjust="spacingAndGlyphs">group</text>
<rect x="79.60" y="266.30" width="15.40" height="94.30" fill="#000"/>
<line x1="87.30" y1="256.30" x2="87.30" y2="266.30" stroke="#333" stroke-width="1"/>
<line x1="85.70" y1="256.30" x2="88.90" y2="256.30" stroke="#333" stroke-width="1"/>
<line x1="85.70" y1="266.30" x2="88.90" y2="266.30" stroke="#333" stroke-width="1"/>
<rect x="148.00" y="285.10" width="15.20" height="75.50" fill="#000"/>
<line x1="155.60" y1="280.40" x2="155.60" y2="285.10" stroke="#333" stroke-width="1"/>
<line x1="154.00" y1="280.40" x2="157.20" y2="280.40" stroke="#333" stroke-width="1"/>
<line x1="154.00" y1="285.10" x2="157.20" y2="285.10" stroke="#333" stroke-width="1"/>
<rect x="216.30" y="285.50" width="15.40" height="75.10" fill="#000"/>
<line x1="224.00" y1="275.30" x2="224.00" y2="285.50" stroke="#333" stroke-width="1"/>
<line x1="222.40" y1="275.30" x2="225.60" y2="275.30" stroke="#333" stroke-width="1"/>
<line x1="222.40" y1="285.50" x2="225.60" y2="285.50" stroke="#333" stroke-width="1"/>
<polyline points="85.90,256.30 85.90,243.00 152.30,243.00 152.30,273.80" fill="none" stroke="#666" stroke-width="1"/>
<polyline points="155.70,273.80 155.70,243.00 223.60,243.00 223.60,275.00" fill="none" stroke="#666" stroke-width="1"/>
<path d="M122.10,234.30V238.50M120.20,236.40H124.00M120.48,234.72L123.71,238.08M120.48,238.08L123.71,234.72" stroke="#555" stroke-width="0.8" fill="none"/>
<text x="36.10" y="313.00" font-family="'Liberation Serif', serif" font-size="10.3" fill="#666" text-anchor="middle" font-weight="normal" textLength="126.80" lengthAdjust="spacing" transform="rotate(-90 36.10 313.00)">values of cell viability(%)</text>
<text x="27.90" y="244.90" font-family="'Liberation Serif', serif" font-size="16.5" fill="#111" text-anchor="start" font-weight="normal" textLength="6.00" lengthAdjust="spacingAndGlyphs" stroke="#111" stroke-width="0.35">C</text>
<line x1="315.60" y1="232.90" x2="315.60" y2="360.30" stroke="#a0a0a0" stroke-width="1"/>
<line x1="315.60" y1="360.30" x2="500.80" y2="360.30" stroke="#a0a0a0" stroke-width="1"/>
<line x1="315.60" y1="232.90" x2="318.10" y2="232.90" stroke="#a0a0a0" stroke-width="1"/>
<text x="310.60" y="236.70" font-family="'Liberation Serif', serif" font-size="9.4" fill="#484848" text-anchor="end" font-weight="normal" textLength="31.20" lengthAdjust="spacingAndGlyphs">4.60E+05</text>
<line x1="315.60" y1="258.38" x2="318.10" y2="258.38" stroke="#a0a0a0" stroke-width="1"/>
<text x="310.60" y="262.18" font-family="'Liberation Serif', serif" font-size="9.4" fill="#484848" text-anchor="end" font-weight="normal" textLength="31.20" lengthAdjust="spacingAndGlyphs">4.40E+05</text>
<line x1="315.60" y1="283.86" x2="318.10" y2="283.86" stroke="#a0a0a0" stroke-width="1"/>
<text x="310.60" y="287.66" font-family="'Liberation Serif', serif" font-size="9.4" fill="#484848" text-anchor="end" font-weight="normal" textLength="31.20" lengthAdjust="spacingAndGlyphs">4.20E+05</text>
<line x1="315.60" y1="309.34" x2="318.10" y2="309.34" stroke="#a0a0a0" stroke-width="1"/>
<text x="310.60" y="313.14" font-family="'Liberation Serif', serif" font-size="9.4" fill="#484848" text-anchor="end" font-weight="normal" textLength="31.20" lengthAdjust="spacingAndGlyphs">4.00E+05</text>
<line x1="315.60" y1="334.82" x2="318.10" y2="334.82" stroke="#a0a0a0" stroke-width="1"/>
<text x="310.60" y="338.62" font-family="'Liberation Serif', serif" font-size="9.4" fill="#484848" text-anchor="end" font-weight="normal" textLength="31.20" lengthAdjust="spacingAndGlyphs">3.80E+05</text>
<line x1="315.60" y1="360.30" x2="318.10" y2="360.30" stroke="#a0a0a0" stroke-width="1"/>
<text x="310.60" y="364.10" font-family="'Liberation Serif', serif" font-size="9.4" fill="#484848" text-anchor="end" font-weight="normal" textLength="31.20" lengthAdjust="spacingAndGlyphs">3.60E+05</text>
<line x1="377.33" y1="360.30" x2="377.33" y2="357.80" stroke="#a0a0a0" stroke-width="1"/>
<line x1="439.07" y1="360.30" x2="439.07" y2="357.80" stroke="#a0a0a0" stroke-width="1"/>
<line x1="500.80" y1="360.30" x2="500.80" y2="357.80" stroke="#a0a0a0" stroke-width="1"/>
<text x="346.47" y="377.00" font-family="'Liberation Serif', serif" font-size="9.0" fill="#333" text-anchor="middle" font-weight="normal" textLength="47.19" lengthAdjust="spacingAndGlyphs">control group</text>
<text x="408.20" y="377.00" font-family="'Liberation Serif', serif" font-size="9.0" fill="#333" text-anchor="middle" font-weight="normal" textLength="54.45" lengthAdjust="spacingAndGlyphs">rapamycin group</text>
<text x="469.93" y="377.00" font-family="'Liberation Serif', serif" font-size="9.0" fill="#333" text-anchor="middle" font-weight="normal" textLength="50.82" lengthAdjust="spacingAndGlyphs">rapamycin+LiCl</text>
<text x="469.93" y="388.60" font-family="'Liberation Serif', serif" font-size="9.0" fill="#333" text-anchor="middle" font-weight="normal" textLength="18.15" lengthAdjust="spacingAndGlyphs">group</text>
<rect x="339.00" y="263.80" width="13.50" height="96.50" fill="#000"/>
<line x1="345.75" y1="248.60" x2="345.75" y2="263.80" stroke="#333" stroke-width="1"/>
<line x1="344.15" y1="248.60" x2="347.35" y2="248.60" stroke="#333" stroke-width="1"/>
<line x1="344.15" y1="263.80" x2="347.35" y2="263.80" stroke="#333" stroke-width="1"/>
<rect x="400.40" y="300.50" width="14.20" height="59.80" fill="#000"/>
<line x1="407.50" y1="293.10" x2="407.50" y2="300.50" stroke="#333" stroke-width="1"/>
<line x1="405.90" y1="293.10" x2="409.10" y2="293.10" stroke="#333" stroke-width="1"/>
<line x1="405.90" y1="300.50" x2="409.10" y2="300.50" stroke="#333" stroke-width="1"/>
<rect x="462.20" y="292.50" width="13.80" height="67.80" fill="#000"/>
<line x1="469.10" y1="289.70" x2="469.10" y2="292.50" stroke="#333" stroke-width="1"/>
<line x1="467.50" y1="289.70" x2="470.70" y2="289.70" stroke="#333" stroke-width="1"/>
<line x1="467.50" y1="292.50" x2="470.70" y2="292.50" stroke="#333" stroke-width="1"/>
<polyline points="345.60,248.60 345.60,235.80 407.30,235.80 407.30,285.00" fill="none" stroke="#666" stroke-width="1"/>
<polyline points="413.10,285.50 413.10,255.40 468.20,255.40 468.20,285.00" fill="none" stroke="#666" stroke-width="1"/>
<path d="M376.10,228.20V232.20M374.20,230.20H378.00M374.49,228.60L377.72,231.80M374.49,231.80L377.72,228.60" stroke="#555" stroke-width="0.8" fill="none"/>
<text x="279.40" y="298.15" font-family="'Liberation Serif', serif" font-size="9.3" fill="#666" text-anchor="middle" font-weight="normal" textLength="131.50" lengthAdjust="spacing" transform="rotate(-90 279.40 298.15)">values of cell proliferation</text>
<line x1="62.60" y1="404.10" x2="62.60" y2="529.00" stroke="#a0a0a0" stroke-width="1"/>
<line x1="62.60" y1="529.00" x2="257.80" y2="529.00" stroke="#a0a0a0" stroke-width="1"/>
<line x1="62.60" y1="529.00" x2="65.10" y2="529.00" stroke="#a0a0a0" stroke-width="1"/>
<text x="55.80" y="532.90" font-family="'Liberation Serif', serif" font-size="10.0" fill="#484848" text-anchor="end" font-weight="normal" textLength="4.55" lengthAdjust="spacingAndGlyphs">0</text>
<line x1="62.60" y1="515.12" x2="65.10" y2="515.12" stroke="#a0a0a0" stroke-width="1"/>
<text x="55.80" y="519.02" font-family="'Liberation Serif', serif" font-size="10.0" fill="#484848" text-anchor="end" font-weight="normal" textLength="9.10" lengthAdjust="spacingAndGlyphs">10</text>
<line x1="62.60" y1="501.24" x2="65.10" y2="501.24" stroke="#a0a0a0" stroke-width="1"/>
<text x="55.80" y="505.14" font-family="'Liberation Serif', serif" font-size="10.0" fill="#484848" text-anchor="end" font-weight="normal" textLength="9.10" lengthAdjust="spacingAndGlyphs">20</text>
<line x1="62.60" y1="487.37" x2="65.10" y2="487.37" stroke="#a0a0a0" stroke-width="1"/>
<text x="55.80" y="491.27" font-family="'Liberation Serif', serif" font-size="10.0" fill="#484848" text-anchor="end" font-weight="normal" textLength="9.10" lengthAdjust="spacingAndGlyphs">30</text>
<line x1="62.60" y1="473.49" x2="65.10" y2="473.49" stroke="#a0a0a0" stroke-width="1"/>
<text x="55.80" y="477.39" font-family="'Liberation Serif', serif" font-size="10.0" fill="#484848" text-anchor="end" font-weight="normal" textLength="9.10" lengthAdjust="spacingAndGlyphs">40</text>
<line x1="62.60" y1="459.61" x2="65.10" y2="459.61" stroke="#a0a0a0" stroke-width="1"/>
<text x="55.80" y="463.51" font-family="'Liberation Serif', serif" font-size="10.0" fill="#484848" text-anchor="end" font-weight="normal" textLength="9.10" lengthAdjust="spacingAndGlyphs">50</text>
<line x1="62.60" y1="445.73" x2="65.10" y2="445.73" stroke="#a0a0a0" stroke-width="1"/>
<text x="55.80" y="449.63" font-family="'Liberation Serif', serif" font-size="10.0" fill="#484848" text-anchor="end" font-weight="normal" textLength="9.10" lengthAdjust="spacingAndGlyphs">60</text>
<line x1="62.60" y1="431.86" x2="65.10" y2="431.86" stroke="#a0a0a0" stroke-width="1"/>
<text x="55.80" y="435.76" font-family="'Liberation Serif', serif" font-size="10.0" fill="#484848" text-anchor="end" font-weight="normal" textLength="9.10" lengthAdjust="spacingAndGlyphs">70</text>
<line x1="62.60" y1="417.98" x2="65.10" y2="417.98" stroke="#a0a0a0" stroke-width="1"/>
<text x="55.80" y="421.88" font-family="'Liberation Serif', serif" font-size="10.0" fill="#484848" text-anchor="end" font-weight="normal" textLength="9.10" lengthAdjust="spacingAndGlyphs">80</text>
<line x1="62.60" y1="404.10" x2="65.10" y2="404.10" stroke="#a0a0a0" stroke-width="1"/>
<text x="55.80" y="408.00" font-family="'Liberation Serif', serif" font-size="10.0" fill="#484848" text-anchor="end" font-weight="normal" textLength="9.10" lengthAdjust="spacingAndGlyphs">90</text>
<line x1="127.67" y1="529.00" x2="127.67" y2="526.50" stroke="#a0a0a0" stroke-width="1"/>
<line x1="192.73" y1="529.00" x2="192.73" y2="526.50" stroke="#a0a0a0" stroke-width="1"/>
<line x1="257.80" y1="529.00" x2="257.80" y2="526.50" stroke="#a0a0a0" stroke-width="1"/>
<text x="95.13" y="545.40" font-family="'Liberation Serif', serif" font-size="9.5" fill="#333" text-anchor="middle" font-weight="normal" textLength="43.90" lengthAdjust="spacing">G1/S phase</text>
<text x="160.20" y="545.40" font-family="'Liberation Serif', serif" font-size="9.5" fill="#333" text-anchor="middle" font-weight="normal" textLength="30.73" lengthAdjust="spacing">S phase</text>
<text x="225.27" y="545.40" font-family="'Liberation Serif', serif" font-size="9.5" fill="#333" text-anchor="middle" font-weight="normal" textLength="43.90" lengthAdjust="spacingAndGlyphs">G2/M phase</text>
<rect x="89.48" y="422.82" width="10.25" height="106.18" fill="#bdbdbd" stroke="#777" stroke-width="0.8"/>
<rect x="79.73" y="432.27" width="9.55" height="96.73" fill="#fff" stroke="#555" stroke-width="1"/>
<rect x="99.53" y="420.89" width="10.45" height="108.11" fill="#000"/>
<line x1="84.36" y1="428.60" x2="84.36" y2="435.60" stroke="#333" stroke-width="1"/>
<line x1="82.36" y1="428.60" x2="86.36" y2="428.60" stroke="#333" stroke-width="1"/>
<line x1="82.36" y1="435.60" x2="86.36" y2="435.60" stroke="#333" stroke-width="1"/>
<line x1="94.61" y1="419.60" x2="94.61" y2="425.80" stroke="#333" stroke-width="1"/>
<line x1="92.61" y1="419.60" x2="96.61" y2="419.60" stroke="#333" stroke-width="1"/>
<line x1="92.61" y1="425.80" x2="96.61" y2="425.80" stroke="#333" stroke-width="1"/>
<line x1="104.86" y1="419.00" x2="104.86" y2="420.89" stroke="#333" stroke-width="1"/>
<line x1="102.86" y1="419.00" x2="106.86" y2="419.00" stroke="#333" stroke-width="1"/>
<line x1="102.86" y1="420.89" x2="106.86" y2="420.89" stroke="#333" stroke-width="1"/>
<rect x="154.55" y="502.62" width="10.25" height="26.38" fill="#bdbdbd" stroke="#777" stroke-width="0.8"/>
<rect x="144.80" y="493.61" width="9.55" height="35.39" fill="#fff" stroke="#555" stroke-width="1"/>
<rect x="164.60" y="502.49" width="10.45" height="26.51" fill="#000"/>
<line x1="149.43" y1="490.50" x2="149.43" y2="496.20" stroke="#333" stroke-width="1"/>
<line x1="147.43" y1="490.50" x2="151.43" y2="490.50" stroke="#333" stroke-width="1"/>
<line x1="147.43" y1="496.20" x2="151.43" y2="496.20" stroke="#333" stroke-width="1"/>
<line x1="159.68" y1="499.10" x2="159.68" y2="504.50" stroke="#333" stroke-width="1"/>
<line x1="157.68" y1="499.10" x2="161.68" y2="499.10" stroke="#333" stroke-width="1"/>
<line x1="157.68" y1="504.50" x2="161.68" y2="504.50" stroke="#333" stroke-width="1"/>
<line x1="169.93" y1="500.90" x2="169.93" y2="502.49" stroke="#333" stroke-width="1"/>
<line x1="167.93" y1="500.90" x2="171.93" y2="500.90" stroke="#333" stroke-width="1"/>
<line x1="167.93" y1="502.49" x2="171.93" y2="502.49" stroke="#333" stroke-width="1"/>
<rect x="219.62" y="524.27" width="10.25" height="4.73" fill="#bdbdbd" stroke="#777" stroke-width="0.8"/>
<rect x="209.87" y="522.75" width="9.55" height="6.25" fill="#fff" stroke="#555" stroke-width="1"/>
<rect x="229.67" y="524.42" width="10.45" height="4.58" fill="#000"/>
<line x1="214.49" y1="518.30" x2="214.49" y2="526.70" stroke="#333" stroke-width="1"/>
<line x1="212.49" y1="518.30" x2="216.49" y2="518.30" stroke="#333" stroke-width="1"/>
<line x1="212.49" y1="526.70" x2="216.49" y2="526.70" stroke="#333" stroke-width="1"/>
<line x1="224.74" y1="522.30" x2="224.74" y2="525.00" stroke="#333" stroke-width="1"/>
<line x1="222.74" y1="522.30" x2="226.74" y2="522.30" stroke="#333" stroke-width="1"/>
<line x1="222.74" y1="525.00" x2="226.74" y2="525.00" stroke="#333" stroke-width="1"/>
<line x1="234.99" y1="522.80" x2="234.99" y2="524.42" stroke="#333" stroke-width="1"/>
<line x1="232.99" y1="522.80" x2="236.99" y2="522.80" stroke="#333" stroke-width="1"/>
<line x1="232.99" y1="524.42" x2="236.99" y2="524.42" stroke="#333" stroke-width="1"/>
<polyline points="83.70,426.20 83.70,411.60 90.30,411.60 90.30,416.70" fill="none" stroke="#4a4a4a" stroke-width="1"/>
<polyline points="96.60,417.30 96.60,403.50 106.60,403.50 106.60,417.30" fill="none" stroke="#4a4a4a" stroke-width="1"/>
<polyline points="150.40,489.80 150.40,472.10 159.00,472.10 159.00,497.90" fill="none" stroke="#4a4a4a" stroke-width="1"/>
<polyline points="160.70,496.70 160.70,477.50 168.60,477.50 168.60,496.70" fill="none" stroke="#4a4a4a" stroke-width="1"/>
<path d="M87.40,402.60V407.40M85.30,405.00H89.50M85.62,403.08L89.19,406.92M85.62,406.92L89.19,403.08" stroke="#555" stroke-width="0.8" fill="none"/>
<path d="M153.70,462.30V466.70M151.80,464.50H155.60M152.08,462.74L155.31,466.26M152.08,466.26L155.31,462.74" stroke="#555" stroke-width="0.8" fill="none"/>
<text x="35.20" y="414.90" font-family="'Liberation Serif', serif" font-size="15.5" fill="#111" text-anchor="start" font-weight="bold" textLength="6.80" lengthAdjust="spacingAndGlyphs" stroke="#111" stroke-width="0.3">D</text>
<text x="43.20" y="469.15" font-family="'Liberation Serif', serif" font-size="10.0" fill="#666" text-anchor="middle" font-weight="normal" textLength="86.70" lengthAdjust="spacing" transform="rotate(-90 43.20 469.15)">percentage cells(%)</text>
<rect x="160.50" y="403.20" width="92.00" height="33.60" fill="#fff" stroke="#c8c8c8" stroke-width="1"/>
<rect x="166.70" y="407.75" width="3.50" height="3.80" fill="#fff" stroke="#222" stroke-width="1.0"/>
<text x="172.70" y="411.90" font-family="'Liberation Serif', serif" font-size="7.6" fill="#444" text-anchor="start" font-weight="normal" textLength="49.51" lengthAdjust="spacing">control group</text>
<rect x="166.70" y="418.95" width="3.50" height="3.80" fill="#bdbdbd" stroke="#222" stroke-width="1.0"/>
<text x="172.70" y="423.30" font-family="'Liberation Serif', serif" font-size="7.6" fill="#444" text-anchor="start" font-weight="normal" textLength="57.25" lengthAdjust="spacing">rapamycin group</text>
<rect x="166.70" y="429.75" width="3.50" height="3.80" fill="#000" stroke="#222" stroke-width="1.0"/>
<text x="172.70" y="434.70" font-family="'Liberation Serif', serif" font-size="7.6" fill="#444" text-anchor="start" font-weight="normal" textLength="76.60" lengthAdjust="spacing">rapamycin+LiCl group</text>
<line x1="303.80" y1="405.90" x2="303.80" y2="515.70" stroke="#a0a0a0" stroke-width="1"/>
<line x1="303.80" y1="515.70" x2="493.50" y2="515.70" stroke="#a0a0a0" stroke-width="1"/>
<line x1="303.80" y1="515.70" x2="306.30" y2="515.70" stroke="#a0a0a0" stroke-width="1"/>
<text x="298.40" y="519.30" font-family="'Liberation Serif', serif" font-size="9.2" fill="#484848" text-anchor="end" font-weight="normal">0</text>
<line x1="303.80" y1="503.50" x2="306.30" y2="503.50" stroke="#a0a0a0" stroke-width="1"/>
<text x="298.40" y="507.10" font-family="'Liberation Serif', serif" font-size="9.2" fill="#484848" text-anchor="end" font-weight="normal" textLength="12.90" lengthAdjust="spacingAndGlyphs">0.1</text>
<line x1="303.80" y1="491.30" x2="306.30" y2="491.30" stroke="#a0a0a0" stroke-width="1"/>
<text x="298.40" y="494.90" font-family="'Liberation Serif', serif" font-size="9.2" fill="#484848" text-anchor="end" font-weight="normal" textLength="12.90" lengthAdjust="spacingAndGlyphs">0.2</text>
<line x1="303.80" y1="479.10" x2="306.30" y2="479.10" stroke="#a0a0a0" stroke-width="1"/>
<text x="298.40" y="482.70" font-family="'Liberation Serif', serif" font-size="9.2" fill="#484848" text-anchor="end" font-weight="normal" textLength="12.90" lengthAdjust="spacingAndGlyphs">0.3</text>
<line x1="303.80" y1="466.90" x2="306.30" y2="466.90" stroke="#a0a0a0" stroke-width="1"/>
<text x="298.40" y="470.50" font-family="'Liberation Serif', serif" font-size="9.2" fill="#484848" text-anchor="end" font-weight="normal" textLength="12.90" lengthAdjust="spacingAndGlyphs">0.4</text>
<line x1="303.80" y1="454.70" x2="306.30" y2="454.70" stroke="#a0a0a0" stroke-width="1"/>
<text x="298.40" y="458.30" font-family="'Liberation Serif', serif" font-size="9.2" fill="#484848" text-anchor="end" font-weight="normal" textLength="12.90" lengthAdjust="spacingAndGlyphs">0.5</text>
<line x1="303.80" y1="442.50" x2="306.30" y2="442.50" stroke="#a0a0a0" stroke-width="1"/>
<text x="298.40" y="446.10" font-family="'Liberation Serif', serif" font-size="9.2" fill="#484848" text-anchor="end" font-weight="normal" textLength="12.90" lengthAdjust="spacingAndGlyphs">0.6</text>
<line x1="303.80" y1="430.30" x2="306.30" y2="430.30" stroke="#a0a0a0" stroke-width="1"/>
<text x="298.40" y="433.90" font-family="'Liberation Serif', serif" font-size="9.2" fill="#484848" text-anchor="end" font-weight="normal" textLength="12.90" lengthAdjust="spacingAndGlyphs">0.7</text>
<line x1="303.80" y1="418.10" x2="306.30" y2="418.10" stroke="#a0a0a0" stroke-width="1"/>
<text x="298.40" y="421.70" font-family="'Liberation Serif', serif" font-size="9.2" fill="#484848" text-anchor="end" font-weight="normal" textLength="12.90" lengthAdjust="spacingAndGlyphs">0.8</text>
<line x1="303.80" y1="405.90" x2="306.30" y2="405.90" stroke="#a0a0a0" stroke-width="1"/>
<text x="298.40" y="409.50" font-family="'Liberation Serif', serif" font-size="9.2" fill="#484848" text-anchor="end" font-weight="normal" textLength="12.90" lengthAdjust="spacingAndGlyphs">0.9</text>
<line x1="367.03" y1="515.70" x2="367.03" y2="513.20" stroke="#a0a0a0" stroke-width="1"/>
<line x1="430.27" y1="515.70" x2="430.27" y2="513.20" stroke="#a0a0a0" stroke-width="1"/>
<line x1="493.50" y1="515.70" x2="493.50" y2="513.20" stroke="#a0a0a0" stroke-width="1"/>
<text x="335.42" y="533.00" font-family="'Liberation Serif', serif" font-size="9.2" fill="#333" text-anchor="middle" font-weight="normal" textLength="50.96" lengthAdjust="spacing">control group</text>
<text x="398.65" y="533.00" font-family="'Liberation Serif', serif" font-size="9.2" fill="#333" text-anchor="middle" font-weight="normal" textLength="58.80" lengthAdjust="spacingAndGlyphs">rapamycin group</text>
<text x="461.88" y="533.00" font-family="'Liberation Serif', serif" font-size="9.2" fill="#333" text-anchor="middle" font-weight="normal" textLength="54.88" lengthAdjust="spacingAndGlyphs">rapamycin+LiCl</text>
<text x="461.88" y="544.50" font-family="'Liberation Serif', serif" font-size="9.2" fill="#333" text-anchor="middle" font-weight="normal" textLength="19.60" lengthAdjust="spacingAndGlyphs">group</text>
<rect x="328.20" y="425.20" width="14.20" height="90.50" fill="#000"/>
<line x1="335.30" y1="420.00" x2="335.30" y2="425.20" stroke="#333" stroke-width="1"/>
<line x1="333.60" y1="420.00" x2="337.00" y2="420.00" stroke="#333" stroke-width="1"/>
<line x1="333.60" y1="425.20" x2="337.00" y2="425.20" stroke="#333" stroke-width="1"/>
<rect x="391.10" y="436.90" width="14.80" height="78.80" fill="#000"/>
<line x1="398.50" y1="434.70" x2="398.50" y2="436.90" stroke="#333" stroke-width="1"/>
<line x1="396.80" y1="434.70" x2="400.20" y2="434.70" stroke="#333" stroke-width="1"/>
<line x1="396.80" y1="436.90" x2="400.20" y2="436.90" stroke="#333" stroke-width="1"/>
<rect x="454.60" y="436.90" width="14.60" height="78.80" fill="#000"/>
<line x1="461.90" y1="434.10" x2="461.90" y2="436.90" stroke="#333" stroke-width="1"/>
<line x1="460.20" y1="434.10" x2="463.60" y2="434.10" stroke="#333" stroke-width="1"/>
<line x1="460.20" y1="436.90" x2="463.60" y2="436.90" stroke="#333" stroke-width="1"/>
<polyline points="338.50,420.00 338.50,406.70 394.30,406.70 394.30,431.80" fill="none" stroke="#666" stroke-width="1"/>
<polyline points="401.70,431.80 401.70,410.60 456.60,410.60 456.60,431.30" fill="none" stroke="#666" stroke-width="1"/>
<path d="M365.70,402.10V405.90M364.10,404.00H367.30M364.34,402.48L367.06,405.52M364.34,405.52L367.06,402.48" stroke="#555" stroke-width="0.8" fill="none"/>
<text x="265.90" y="414.90" font-family="'Liberation Serif', serif" font-size="16.5" fill="#111" text-anchor="start" font-weight="bold" textLength="5.90" lengthAdjust="spacingAndGlyphs" stroke="#111" stroke-width="0.3">E</text>
<text x="280.80" y="460.80" font-family="'Liberation Serif', serif" font-size="11.2" fill="#666" text-anchor="middle" font-weight="normal" textLength="80.20" lengthAdjust="spacingAndGlyphs" transform="rotate(-90 280.80 460.80)">TG secretion(mM)</text>
</svg>
</body></html>
